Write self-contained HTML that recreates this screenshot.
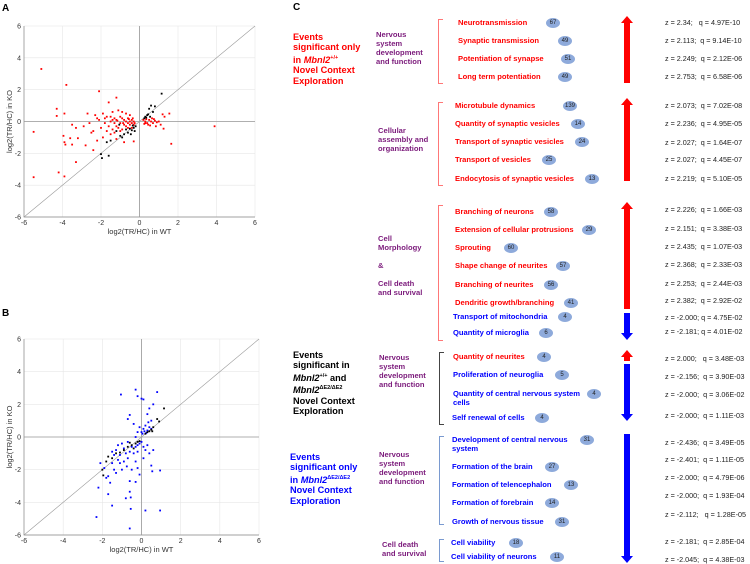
<!DOCTYPE html>
<html><head><meta charset="utf-8">
<style>
body{margin:0;width:750px;height:564px;background:#fff;position:relative;overflow:hidden;font-family:"Liberation Sans",sans-serif}
.t{position:absolute;font-weight:bold;font-size:7.6px;white-space:nowrap;line-height:8.6px}
.r{color:#f00}.b{color:#00f}.p{color:#7b1a7b}.k{color:#000}
.z{position:absolute;font-size:7.2px;white-space:pre;color:#222;left:665px}
.bd{position:absolute;width:14px;height:10px;border-radius:50%;background:#8eaadb;font-size:6px;color:#222;text-align:center;line-height:10px}
.main{position:absolute;font-weight:bold;font-size:9.2px;line-height:10.4px}
.grp{position:absolute;font-weight:bold;font-size:7.6px;line-height:9px;color:#7b1a7b}
.br{position:absolute;border:1px solid;border-right:none;width:4px}
.lbl{position:absolute;font-weight:bold;font-size:10px}
</style></head><body>
<div class="lbl" style="left:2px;top:3px">A</div>
<div class="lbl" style="left:2px;top:308px">B</div>
<div class="lbl" style="left:293px;top:2px">C</div>
<svg id="chartA" width="270" height="270" style="position:absolute;left:0;top:0"></svg>
<svg id="chartB" width="270" height="284" style="position:absolute;left:0;top:280px"></svg>
<div id="panelC"></div>
<script>
const ticks=[-6,-4,-2,0,2,4,6];
const aRed=[[-5.1,3.3],[-3.8,2.3],[-2.1,1.9],[-1.2,1.5],[-1.6,1.2],[-4.3,0.8],[-3.9,0.5],[-4.3,0.35],[-5.5,-0.65],[-3.5,-0.2],[-3.3,-0.4],[-3.95,-0.9],[-3.6,-1.05],[-3.2,-1.05],[-3.9,-1.3],[-3.85,-1.45],[-3.5,-1.45],[-2.4,-1.8],[-2.8,-1.5],[-3.3,-2.55],[-4.2,-3.2],[-3.9,-3.45],[-5.5,-3.5],[3.9,-0.3],[1.65,-1.4],[1.55,0.5],[1.2,0.45],[1.25,-0.45],[-0.3,-1.25],[-2.5,-0.7],[-2.2,-1.2],[-1.9,-1.0],[-2.7,0.5],[-2.3,0.4],[-1.4,0.6],[-1.8,0.2],[-2.0,-0.4],[-2.6,-0.1],[-1.5,-0.8],[-1.2,-1.1],[-0.8,-1.3],[-2.9,-0.3],[-2.4,-0.6],[-2.1,0.1],[-1.9,0.5],[-1.7,0.3],[-1.5,0.3],[-1.3,0.2],[-1.1,0.7],[-0.9,0.6],[-0.7,0.5],[-0.5,0.4],[-1.6,-0.3],[-1.4,-0.5],[-1.2,-0.3],[-1.0,-0.1],[-0.8,0.1],[-0.6,0.2],[-0.4,0.1],[-0.3,-0.2],[-1.5,0.0],[-1.3,-0.1],[-1.1,-0.4],[-0.9,-0.5],[-0.7,-0.3],[-0.5,-0.2],[-0.4,-0.4],[-0.3,0.0],[-1.0,0.3],[-0.8,-0.2],[-0.6,-0.4],[-1.2,0.1],[-0.9,0.2],[-0.7,0.0],[-0.5,0.0],[-0.4,-0.1],[-0.35,0.2],[-1.7,-0.6],[-1.3,-0.7],[-1.0,-0.6],[-0.6,-0.1],[-0.55,0.15],[-0.85,-0.1],[-1.15,0.05],[-1.4,0.1],[-1.8,-0.1],[-2.2,0.2],[-0.25,-0.1],[0.2,0.1],[0.3,0.0],[0.4,-0.1],[0.5,0.1],[0.6,0.0],[0.7,-0.1],[0.8,0.05],[0.9,-0.05],[0.35,0.15],[0.45,-0.2],[0.55,-0.25],[0.65,0.2],[0.75,0.15],[0.25,-0.15],[1.0,0.0],[1.1,-0.2],[1.3,0.3],[0.85,-0.3],[0.3,-0.1]];
const aBlack=[[1.15,1.75],[0.8,0.95],[0.6,1.0],[0.5,0.8],[0.3,0.3],[0.4,0.4],[0.25,0.2],[0.35,0.25],[0.45,0.45],[0.55,0.3],[0.7,0.6],[-0.2,-0.3],[-0.3,-0.4],[-0.4,-0.55],[-0.5,-0.45],[-0.6,-0.7],[-0.8,-0.8],[-1.0,-0.9],[-1.2,-0.6],[-1.5,-1.2],[-1.7,-1.3],[-2.0,-2.05],[-1.95,-2.3],[-1.6,-2.15],[-0.9,-1.0],[-0.35,-0.25],[-0.25,-0.6],[-0.7,-0.5],[-1.05,-0.2],[-0.45,-0.8]];
const bBlue=[[-0.3,2.9],[0.8,2.75],[-1.05,2.6],[-0.2,2.5],[0,2.35],[0.1,2.3],[0.6,2.0],[-0.6,1.35],[-0.7,1.1],[0.4,1.75],[0.5,1.0],[0.3,1.4],[-2.1,-1.6],[-2.2,-3.1],[-2.3,-4.9],[-1.7,-3.5],[-1.5,-4.2],[-0.6,-5.6],[-0.55,-4.4],[0.2,-4.5],[0.95,-4.5],[-0.6,-2.7],[-0.3,-2.75],[-0.6,-3.35],[-0.55,-3.7],[-0.8,-3.75],[0.5,-1.75],[0.55,-2.1],[0.95,-2.05],[-0.1,-2.3],[-0.2,-1.9],[-1.6,-2.8],[-1.8,-2.5],[-1.7,-2.4],[-1.3,-2.2],[-1.0,-2.0],[-0.5,-2.0],[-1.5,-1.6],[-1.2,-1.4],[-1.4,-1.1],[-0.9,-1.5],[-0.7,-1.3],[0.1,-1.3],[0.4,-1.0],[0.6,-0.8],[-1.5,-0.9],[-1.3,-0.8],[-1.1,-1.1],[-0.9,-0.7],[-0.8,-1.0],[-0.6,-0.9],[-0.5,-0.6],[-0.4,-1.0],[-0.3,-0.6],[-0.2,-0.5],[-0.1,-0.4],[0.0,-0.3],[0.1,-0.6],[0.2,-0.8],[-1.2,-0.5],[-1.0,-0.4],[-0.7,-0.3],[-0.2,-0.9],[0.3,-0.5],[0.0,0.3],[0.1,0.5],[0.2,0.7],[0.3,0.4],[0.4,0.6],[-0.1,0.6],[-0.4,0.8],[-0.2,0.3],[0.05,0.2],[0.15,0.35],[0.25,0.25],[0.35,0.9],[0.5,0.5],[-0.3,0.0],[-1.1,-1.6],[-0.75,-1.8],[-1.9,-1.9],[-1.4,-2.0],[-0.3,-1.5]];
const bBlack=[[1.15,1.75],[0.9,0.95],[0.8,1.1],[0.6,0.6],[0.5,0.45],[0.4,0.35],[0.3,0.3],[0.2,0.2],[0.55,0.35],[-0.2,-0.3],[-0.3,-0.4],[-0.5,-0.5],[-0.7,-0.6],[-0.9,-0.8],[-1.1,-0.95],[-1.3,-1.0],[-1.5,-1.3],[-1.8,-1.5],[-2.0,-2.0],[-1.95,-2.35],[-1.7,-1.2],[-0.4,-0.7],[-0.1,-0.25],[-0.6,-0.35]];
const NS="http://www.w3.org/2000/svg";
function el(p,tag,a){const e=document.createElementNS(NS,tag);for(const k in a)e.setAttribute(k,a[k]);p.appendChild(e);return e;}
function scatter(svg,x0,x1,y0,y1,series){
  const sx=v=>x0+(v+6)*(x1-x0)/12, sy=v=>y1-(v+6)*(y1-y0)/12;
  ticks.forEach(t=>{
    const g1=el(svg,'line',{x1:sx(t),x2:sx(t),y1:y0,y2:y1,stroke:'#e6e6e6','stroke-width':0.6});
    
    const g2=el(svg,'line',{x1:x0,x2:x1,y1:sy(t),y2:sy(t),stroke:'#e6e6e6','stroke-width':0.6});
    
    const tx=el(svg,'text',{x:sx(t),y:y1+8,'font-size':7,'text-anchor':'middle',fill:'#333','font-family':'Liberation Sans'});tx.textContent=t;
    
    const ty=el(svg,'text',{x:x0-3,y:sy(t)+2.5,'font-size':7,'text-anchor':'end',fill:'#333','font-family':'Liberation Sans'});ty.textContent=t;
    
  });
  const ax=el(svg,'path',{d:`M${x0},${y0}V${y1}H${x1}`,stroke:'#888',fill:'none','stroke-width':0.7});
  
  const z1=el(svg,'line',{x1:sx(0),x2:sx(0),y1:y0,y2:y1,stroke:'#999','stroke-width':0.8});
  
  const z2=el(svg,'line',{x1:x0,x2:x1,y1:sy(0),y2:sy(0),stroke:'#999','stroke-width':0.8});
  
  const d=el(svg,'line',{x1:sx(-6),y1:sy(-6),x2:sx(6),y2:sy(6),stroke:'#999','stroke-width':0.6});
  
  series.forEach(([pts,col,name])=>pts.forEach(p=>{
    const r=el(svg,'rect',{x:sx(p[0])-0.9,y:sy(p[1])-0.9,width:1.8,height:1.8,fill:col});
    
  }));
  const xl=el(svg,'text',{x:(x0+x1)/2,y:y1+17,'font-size':7.5,'text-anchor':'middle',fill:'#333','font-family':'Liberation Sans'});xl.textContent='log2(TR/HC) in WT';
  
  const yl=el(svg,'text',{x:0,y:0,'font-size':7.5,'text-anchor':'middle',fill:'#333','font-family':'Liberation Sans',transform:`translate(12,${(y0+y1)/2}) rotate(-90)`});yl.textContent='log2(TR/HC) in KO';
  
}
scatter(document.getElementById('chartA'),24,255,26,217,[[aRed,'#f00','point-red'],[aBlack,'#000','point-black']]);
scatter(document.getElementById('chartB'),24,259,59,255,[[bBlue,'#00f','point-blue'],[bBlack,'#000','point-black']]);

const rows=[
['Neurotransmission','r',458,23,'67',553,'z = 2.34;   q = 4.97E-10'],
['Synaptic transmission','r',458,41,'49',565,'z = 2.113;  q = 9.14E-10'],
['Potentiation of synapse','r',458,59,'51',568,'z = 2.249;  q = 2.12E-06'],
['Long term potentiation','r',458,77,'49',565,'z = 2.753;  q = 6.58E-06'],
['Microtubule dynamics','r',455,106,'139',570,'z = 2.073;  q = 7.02E-08'],
['Quantity of synaptic vesicles','r',455,124,'14',578,'z = 2.236;  q = 4.95E-05'],
['Transport of synaptic vesicles','r',455,142,'24',582,'z = 2.027;  q = 1.64E-07'],
['Transport of vesicles','r',455,160,'25',549,'z = 2.027;  q = 4.45E-07'],
['Endocytosis of synaptic vesicles','r',455,179,'13',592,'z = 2.219;  q = 5.10E-05'],
['Branching of neurons','r',455,212,'58',551,'z = 2.226;  q = 1.66E-03'],
['Extension of cellular protrusions','r',455,230,'29',589,'z = 2.151;  q = 3.38E-03'],
['Sprouting','r',455,248,'60',511,'z = 2.435;  q = 1.07E-03'],
['Shape change of neurites','r',455,266,'57',563,'z = 2.368;  q = 2.33E-03'],
['Branching of neurites','r',455,285,'56',551,'z = 2.253;  q = 2.44E-03'],
['Dendritic growth/branching','r',455,303,'41',571,'z = 2.382;  q = 2.92E-02'],
['Transport of mitochondria','b',453,317,'4',565,'z = -2.000; q = 4.75E-02'],
['Quantity of microglia','b',453,333,'6',546,'z = -2.181; q = 4.01E-02'],
['Quantity of neurites','r',453,357,'4',544,'z = 2.000;   q = 3.48E-03'],
['Proliferation of neuroglia','b',453,375,'5',562,'z = -2.156;  q = 3.90E-03'],
['Quantity of central nervous system<br>cells','b',453,394,'4',594,'z = -2.000;  q = 3.06E-02'],
['Self renewal of cells','b',452,418,'4',542,'z = -2.000;  q = 1.11E-03'],
['Development of central nervous<br>system','b',452,440,'31',587,'z = -2.436;  q = 3.49E-05'],
['Formation of the brain','b',452,467,'27',552,'z = -2.401;  q = 1.11E-05'],
['Formation of telencephalon','b',452,485,'13',571,'z = -2.000;  q = 4.79E-06'],
['Formation of forebrain','b',452,503,'14',552,'z = -2.000;  q = 1.93E-04'],
['Growth of nervous tissue','b',452,522,'31',562,'z = -2.112;   q = 1.28E-05'],
['Cell viability','b',451,543,'18',516,'z = -2.181;  q = 2.85E-04'],
['Cell viability of neurons','b',451,557,'11',557,'z = -2.045;  q = 4.38E-03']];
const zy=[23,41,59,77,106,124,143,160,179,210,229,247,265,284,301,318,332,359,377,395,416,443,460,478,496,515,542,560];
let h='';
rows.forEach((r,i)=>{
 h+=`<div class="t ${r[1]}" style="left:${r[2]}px;top:${r[3]-4}px">${r[0]}</div>`;
 h+=`<div class="bd" style="left:${r[5]-7}px;top:${r[3]-5}px">${r[4]}</div>`;
 h+=`<div class="z" style="top:${zy[i]-5}px">${r[6]}</div>`;
});
document.getElementById('panelC').innerHTML=h;
</script>
<div class="main r" style="left:293px;top:32px">Events<br>significant only<br>in <i>Mbnl2</i><sup style="font-size:5.5px">+/+</sup><br>Novel Context<br>Exploration</div>
<div class="main k" style="left:293px;top:350px">Events<br>significant in<br><i>Mbnl2</i><sup style="font-size:5.5px">+/+</sup> and<br><i>Mbnl2</i><sup style="font-size:5.5px">ΔE2/ΔE2</sup><br>Novel Context<br>Exploration</div>
<div class="main b" style="left:290px;top:452px">Events<br>significant only<br>in <i>Mbnl2</i><sup style="font-size:5.5px">ΔE2/ΔE2</sup><br>Novel Context<br>Exploration</div>
<div class="grp" style="left:376px;top:30px">Nervous<br>system<br>development<br>and function</div>
<div class="grp" style="left:378px;top:126px">Cellular<br>assembly and<br>organization</div>
<div class="grp" style="left:378px;top:234px">Cell<br>Morphology<br><br>&amp;<br><br>Cell death<br>and survival</div>
<div class="grp" style="left:379px;top:353px">Nervous<br>system<br>development<br>and function</div>
<div class="grp" style="left:379px;top:450px">Nervous<br>system<br>development<br>and function</div>
<div class="grp" style="left:382px;top:540px">Cell death<br>and survival</div>
<div class="br" style="left:438px;top:19px;height:63px;border-color:#f77"></div>
<div class="br" style="left:438px;top:102px;height:82px;border-color:#f77"></div>
<div class="br" style="left:438px;top:205px;height:134px;border-color:#f77"></div>
<div class="br" style="left:439px;top:352px;height:71px;border-color:#444"></div>
<div class="br" style="left:439px;top:436px;height:87px;border-color:#7a9ad0"></div>
<div class="br" style="left:439px;top:539px;height:21px;border-color:#7a9ad0"></div>
<svg width="30" height="564" style="position:absolute;left:612px;top:0">
<g fill="#f00"><path d="M15,16 L21,23 L18,23 L18,83 L12,83 L12,23 L9,23Z"/><path d="M15,98 L21,105 L18,105 L18,181 L12,181 L12,105 L9,105Z"/><path d="M15,202 L21,209 L18,209 L18,309 L12,309 L12,209 L9,209Z"/><path d="M15,350 L21,357 L18,357 L18,361 L12,361 L12,357 L9,357Z"/></g>
<g fill="#00f"><path d="M12,313 L18,313 L18,333 L21,333 L15,340 L9,333 L12,333Z"/><path d="M12,364 L18,364 L18,414 L21,414 L15,421 L9,414 L12,414Z"/><path d="M12,434 L18,434 L18,556 L21,556 L15,563 L9,556 L12,556Z"/></g>
</svg>
</body></html>
